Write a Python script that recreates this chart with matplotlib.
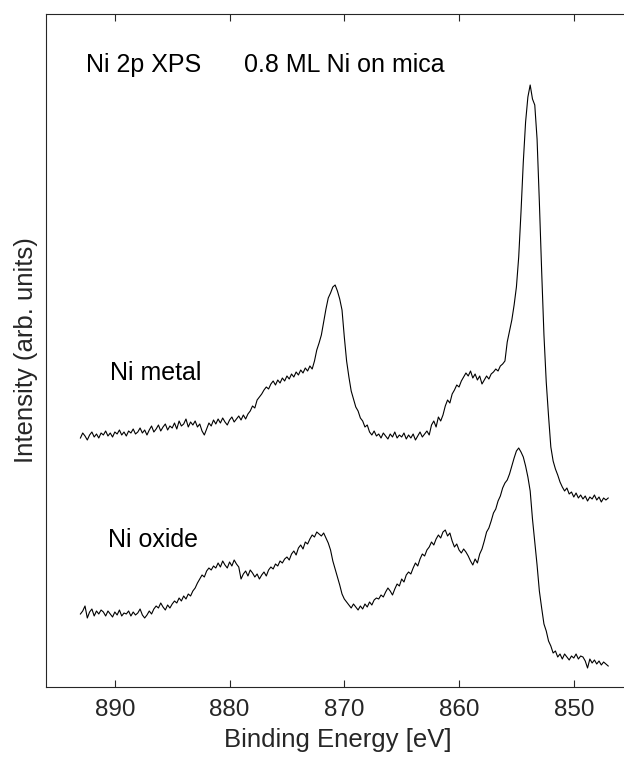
"""Ni 2p XPS spectra of 0.8 ML Ni on mica: metal vs oxide."""

import numpy as np
import matplotlib
matplotlib.use("Agg")  # no screen needed
import matplotlib.pyplot as plt

plt.rcParams["font.family"] = ["Liberation Sans", "DejaVu Sans"]

# binding energy grid of the scans (eV), 893 -> 847 in 0.2 eV steps
energy = np.linspace(893.0, 847.0, 231)

# Ni metal spectrum (arb. units, offset), 10 points (2 eV) per row
metal = np.array([
    249, 254, 251, 247, 252, 255, 250, 253, 249, 254,
    252, 256, 251, 254, 250, 255, 253, 257, 252, 255,
    251, 256, 254, 258, 253, 255, 259, 254, 257, 252,
    257, 261, 255, 258, 262, 256, 260, 263, 257, 261,
    259, 264, 258, 266, 261, 263, 268, 260, 265, 262,
    266, 260, 263, 256, 252, 258, 264, 261, 267, 263,
    268, 264, 269, 265, 262, 267, 270, 265, 268, 271,
    267, 272, 268, 273, 276, 281, 279, 287, 290, 293,
    297, 300, 298, 303, 306, 302, 307, 304, 309, 306,
    311, 308, 313, 310, 315, 312, 317, 314, 319, 316,
    321, 318, 326, 337, 344, 352, 365, 378, 389, 394,
    400, 402, 396, 388, 377, 350, 326, 310, 296, 288,
    280, 276, 269, 266, 260, 262, 255, 252, 256, 251,
    253, 249, 254, 251, 248, 253, 250, 255, 249, 252,
    250, 254, 248, 252, 249, 253, 247, 251, 255, 250,
    253, 256, 252, 262, 266, 260, 270, 266, 272, 281,
    287, 284, 293, 297, 302, 300, 306, 310, 314, 311,
    316, 309, 313, 307, 311, 303, 307, 311, 308, 313,
    315, 318, 316, 321, 323, 326, 345, 356, 367, 382,
    400, 430, 475, 525, 565, 590, 602, 588, 582, 548,
    485, 416, 352, 305, 271, 240, 226, 218, 212, 205,
    200, 196, 199, 193, 195, 190, 194, 189, 192, 188,
    191, 186, 190, 188, 192, 187, 190, 185, 189, 187,
    189,
])

# Ni oxide spectrum (arb. units), same grid
oxide = np.array([
    73, 76, 81, 69, 75, 78, 71, 76, 73, 77,
    75, 71, 76, 73, 70, 75, 72, 77, 71, 74,
    73, 76, 71, 75, 72, 74, 78, 72, 69, 72,
    76, 73, 78, 81, 79, 84, 80, 77, 82, 79,
    83, 86, 84, 89, 86, 91, 88, 93, 91, 96,
    99, 104, 108, 112, 110, 116, 119, 117, 121, 119,
    124, 120, 126, 122, 119, 125, 121, 127, 123, 120,
    108, 113, 116, 111, 117, 114, 110, 113, 108, 112,
    115, 111, 117, 120, 118, 123, 121, 126, 124, 128,
    130, 127, 133, 136, 132, 139, 142, 138, 145, 143,
    148, 152, 150, 155, 153, 151, 154, 149, 144, 137,
    126, 118, 110, 102, 93, 88, 85, 82, 79, 83,
    80, 77, 81, 78, 83, 80, 85, 82, 87, 89,
    88, 92, 90, 95, 99, 96, 92, 98, 103, 101,
    108, 105, 112, 115, 113, 119, 124, 121, 128, 133,
    131, 137, 140, 145, 142, 148, 152, 149, 155, 157,
    151, 154, 146, 140, 143, 137, 134, 138, 135, 131,
    126, 122, 128, 124, 133, 138, 146, 155, 159, 166,
    174, 178, 186, 191, 199, 204, 207, 213, 221, 229,
    236, 239, 235, 230, 221, 210, 196, 168, 145, 122,
    96, 79, 63, 56, 46, 41, 34, 36, 30, 33,
    28, 33, 30, 27, 31, 29, 33, 28, 31, 30,
    26, 19, 28, 24, 27, 23, 26, 22, 25, 23,
    21,
])

xticks = [890, 880, 870, 860, 850]

fig = plt.figure(figsize=(6.24, 7.62), dpi=100)
# axes run past the right edge of the picture, like the cropped original
ax = fig.add_axes([46 / 624, 75 / 762, 584 / 624, 673 / 762])

ax.plot(energy, metal, color="black", lw=0.8)
ax.plot(energy, oxide, color="black", lw=0.8)

ax.set_xlim(896, 845.1)  # binding energy runs right to left
ax.set_ylim(0, 673)
ax.set_xticks(xticks)
ax.set_yticks([])
ax.tick_params(axis="x", direction="in", top=True, length=5, width=0.8,
               pad=9, labelsize=17.5, colors="#262626")
for side in ax.spines.values():
    side.set_color("#262626")
    side.set_linewidth(0.8)

ax.set_xlabel("Binding Energy [eV]", fontsize=18.5, color="#262626", labelpad=4.5)
ax.set_ylabel("Intensity (arb. units)", fontsize=18.5, color="#262626", labelpad=6)

# labels inside the plot
ax.text(892.5, 615, "Ni 2p XPS", fontsize=18, va="baseline")
ax.text(878.7, 615, "0.8 ML Ni on mica", fontsize=18, va="baseline")
ax.text(890.4, 307, "Ni metal", fontsize=18, va="baseline")
ax.text(890.6, 140, "Ni oxide", fontsize=18, va="baseline")

fig.savefig("out.png", dpi=100)
plt.close(fig)
